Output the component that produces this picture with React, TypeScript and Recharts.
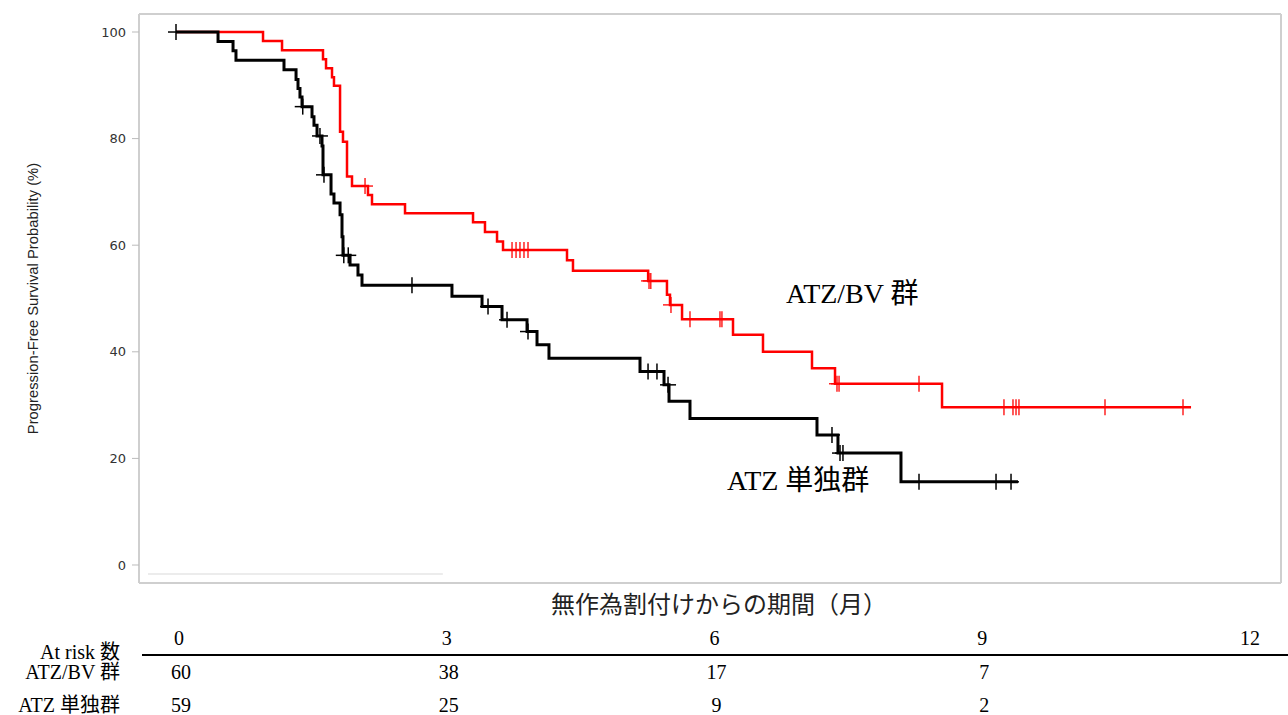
import { ComposedChart, Line, Scatter, XAxis, YAxis, ReferenceLine, ReferenceDot } from "recharts";

// months since randomisation
const months = [0, 3, 6, 9, 12];
const riskBV = [60, 38, 17, 7, null];
const riskATZ = [59, 25, 9, 2, null];

// ATZ/BV arm (red)
const bvTime = [0, 0.975, 1.188, 1.647, 1.681, 1.748, 1.77, 1.838, 1.871, 1.916, 1.972, 2.151, 2.196, 2.566, 3.328, 3.462, 3.597, 3.664, 4.381, 4.448, 5.29, 5.501, 5.535, 5.67, 6.241, 6.577, 7.126, 7.384, 8.583, 11.373];
const bvSurv = [100, 98.3, 96.6, 94.9, 93.2, 91.5, 89.9, 81.3, 79.4, 72.9, 71.1, 69.4, 67.7, 66.0, 64.3, 62.5, 60.7, 59.1, 57.2, 55.2, 53.3, 50.7, 48.8, 46.1, 43.2, 40.0, 36.9, 34.0, 29.6, 29.6];
const bvCensor = [2.118, 3.765, 3.81, 3.854, 3.899, 3.944, 5.3, 5.32, 5.546, 5.759, 6.095, 6.117, 7.406, 7.429, 8.325, 9.277, 9.378, 9.412, 9.445, 10.409, 11.283];

// ATZ alone arm (black)
const atzTime = [0, 0.471, 0.639, 0.672, 1.21, 1.345, 1.367, 1.389, 1.412, 1.524, 1.546, 1.58, 1.636, 1.647, 1.737, 1.77, 1.838, 1.86, 1.871, 1.95, 2.039, 2.084, 3.092, 3.429, 3.653, 3.933, 4.045, 4.179, 5.199, 5.468, 5.524, 5.759, 7.182, 7.417, 8.123, 9.434];
const atzSurv = [100, 98.2, 96.5, 94.7, 92.9, 91.1, 89.4, 87.8, 86.0, 84.1, 82.5, 80.5, 78.6, 73.2, 69.6, 67.9, 65.7, 61.6, 58.1, 56.3, 54.4, 52.5, 50.4, 48.5, 46.0, 43.8, 41.3, 38.8, 36.3, 33.8, 30.7, 27.5, 24.4, 21.0, 15.6, 15.6];
const atzCensor = [0, 1.42, 1.613, 1.658, 1.88, 1.93, 2.644, 3.496, 3.709, 3.944, 5.289, 5.389, 5.513, 7.35, 7.44, 7.473, 8.325, 9.188, 9.356];

const yTicks = [0, 20, 40, 60, 80, 100];
const X_DOMAIN: [number, number] = [-0.4146, 12.381];
const Y_DOMAIN: [number, number] = [-3.38, 103.38];

const toSeries = (t: number[], s: number[]) => t.map((v, i) => ({ t: v, s: s[i] }));
const survAt = (t: number[], s: number[], x: number) => {
  let v = s[0];
  t.forEach((tt, i) => {
    if (tt <= x) v = s[i];
  });
  return v;
};

const bvData = toSeries(bvTime, bvSurv);
const atzData = toSeries(atzTime, atzSurv);
const bvMarks = bvCensor.map((t) => ({ t, s: survAt(bvTime, bvSurv, t) }));
const atzMarks = atzCensor.map((t) => ({ t, s: survAt(atzTime, atzSurv, t) }));

const SERIF = "'Liberation Serif', 'Noto Sans CJK JP', serif";
const CJK = "'Noto Sans CJK JP', sans-serif";

const makeCross = (color: string, w: number) => (p: any) => (
  <g stroke={color} strokeWidth={w}>
    <line x1={p.cx - 8} y1={p.cy} x2={p.cx + 8} y2={p.cy} />
    <line x1={p.cx} y1={p.cy - 8} x2={p.cx} y2={p.cy + 8} />
  </g>
);

const RiskTick = (props: any) => {
  const { x, y, payload, index } = props;
  const i = months.indexOf(payload.value);
  const txt = { textAnchor: "middle" as const, dominantBaseline: "central" as const, fontFamily: SERIF, fontSize: 20, fill: "#000" };
  return (
    <g>
      {index === 0 && (
        <g>
          <line x1={x - 34} y1={y + 72} x2={x + 1112} y2={y + 72} stroke="#000" strokeWidth={2} />
          <text {...txt} textAnchor="end" x={x - 56} y={y + 69}>At risk 数</text>
          <text {...txt} textAnchor="end" x={x - 56} y={y + 89}>ATZ/BV 群</text>
          <text {...txt} textAnchor="end" x={x - 56} y={y + 122}>ATZ 単独群</text>
        </g>
      )}
      <text {...txt} x={x + 3} y={y + 55}>{payload.value}</text>
      {riskBV[i] != null && <text {...txt} x={x + 5} y={y + 89}>{riskBV[i]}</text>}
      {riskATZ[i] != null && <text {...txt} x={x + 5} y={y + 122}>{riskATZ[i]}</text>}
    </g>
  );
};

const GroupLabel = (text: string) => (p: any) => (
  <text x={p.cx} y={p.cy} dominantBaseline="central" fontFamily={SERIF} fontSize={28} fill="#000">
    {text}
  </text>
);

export default function App() {
  return (
    <div style={{ position: "absolute", left: 0, top: 0, background: "#fff" }}>
      <ComposedChart width={1288} height={715} margin={{ top: 14, right: 7, bottom: 0, left: 20 }}>
        <XAxis
          type="number"
          dataKey="t"
          domain={X_DOMAIN}
          ticks={months}
          interval={0}
          height={132}
          tickSize={0}
          tickMargin={0}
          tickLine={false}
          axisLine={{ stroke: "#cfcfcf", strokeWidth: 2 }}
          tick={<RiskTick />}
          label={{
            content: (p: any) => {
              const vb = p.viewBox;
              return (
                <text x={vb.x + vb.width / 2 + 9} y={vb.y + 19} textAnchor="middle" dominantBaseline="central" fontFamily={CJK} fontSize={24} fill="#222">
                  無作為割付けからの期間（月）
                </text>
              );
            },
          }}
        />
        <YAxis
          type="number"
          domain={Y_DOMAIN}
          ticks={yTicks}
          width={119}
          tickSize={7}
          tickMargin={6}
          tickLine={{ stroke: "#bbb" }}
          axisLine={{ stroke: "#cfcfcf", strokeWidth: 2 }}
          tick={{ fill: "#333", fontSize: 13, fontFamily: "'DejaVu Sans', sans-serif" }}
          label={{
            content: (p: any) => {
              const vb = p.viewBox;
              return (
                <text
                  transform={`translate(${vb.x + 13},${vb.y + vb.height / 2}) rotate(-90)`}
                  textAnchor="middle"
                  dominantBaseline="central"
                  fontFamily="'Liberation Sans', Arial, sans-serif"
                  fontSize={14.8}
                  fill="#222"
                >
                  Progression-Free Survival Probability (%)
                </text>
              );
            },
          }}
        />
        <ReferenceLine y={Y_DOMAIN[1]} stroke="#cfcfcf" strokeWidth={2} />
        <ReferenceLine x={X_DOMAIN[1]} stroke="#cfcfcf" strokeWidth={2} />
        <ReferenceLine segment={[{ x: -0.314, y: -1.69 }, { x: 2.99, y: -1.69 }]} stroke="#e6e6e6" strokeWidth={1.5} />

        <Line data={bvData} dataKey="s" type="stepAfter" stroke="#ff0000" strokeWidth={2.5} dot={false} isAnimationActive={false} />
        <Line data={atzData} dataKey="s" type="stepAfter" stroke="#000" strokeWidth={3} dot={false} isAnimationActive={false} />
        <Scatter data={bvMarks} dataKey="s" shape={makeCross("#ff0000", 1.3)} isAnimationActive={false} />
        <Scatter data={atzMarks} dataKey="s" shape={makeCross("#000", 1.5)} isAnimationActive={false} />

        <ReferenceDot x={6.835} y={51.0} r={0} shape={GroupLabel("ATZ/BV 群")} />
        <ReferenceDot x={6.174} y={15.8} r={0} shape={GroupLabel("ATZ 単独群")} />
      </ComposedChart>
    </div>
  );
}
